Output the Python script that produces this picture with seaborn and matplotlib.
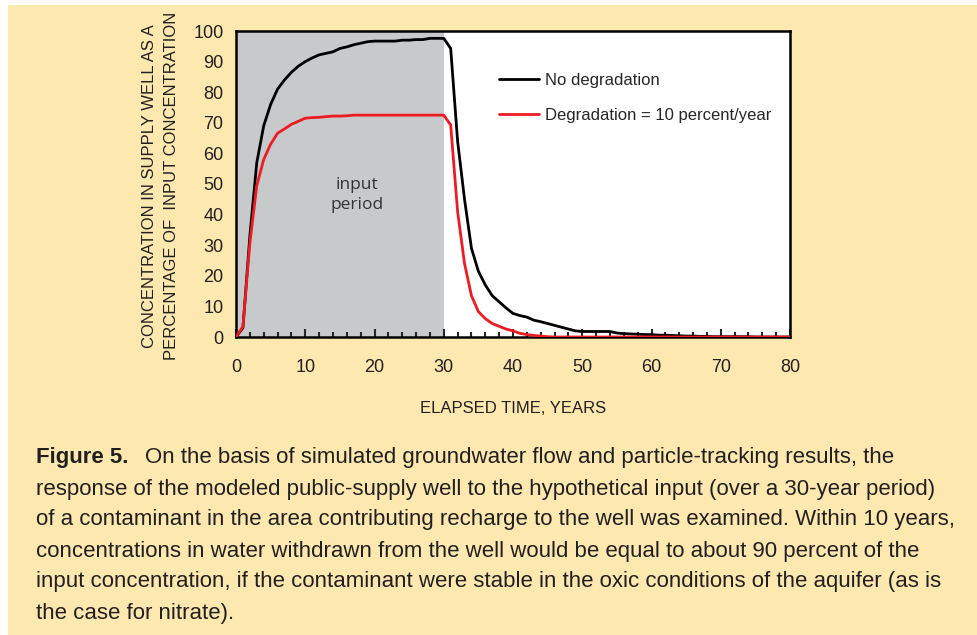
import matplotlib
matplotlib.use("Agg")
import matplotlib.pyplot as plt
import matplotlib.patches as mpatches
from matplotlib.ticker import MultipleLocator
import pandas as pd
import seaborn as sns

# simulated concentration, percent of input, yearly from 0 to 80
years = list(range(0, 81))
no_degradation = [
    0, 3, 33, 57, 69, 76, 81, 84, 86.5, 88.5,
    90, 91.2, 92.2, 92.7, 93.2, 94.3, 94.8, 95.5, 96, 96.5,
    96.7, 96.7, 96.7, 96.7, 97, 97, 97.2, 97.2, 97.6, 97.6,
    97.6, 94.3, 64, 45, 29, 21.5, 17, 13.5, 11.5, 9.5,
    7.7, 7, 6.5, 5.5, 5, 4.4, 3.8, 3.2, 2.6, 2,
    1.8, 1.8, 1.8, 1.8, 1.8, 1.3, 1.1, 1.0, 0.9, 0.8,
    0.8, 0.6, 0.6, 0.5, 0.4, 0.3, 0.3, 0.2, 0.2, 0.1,
    0.1, 0.1, 0.1, 0.1, 0.1, 0, 0, 0, 0, 0, 0,
]
degradation_10 = [
    0, 3.4, 30.6, 49.5, 58, 63, 66.6, 68, 69.5, 70.5,
    71.5, 71.7, 71.8, 72, 72.2, 72.2, 72.3, 72.5, 72.5, 72.5,
    72.5, 72.5, 72.5, 72.5, 72.5, 72.5, 72.5, 72.5, 72.5, 72.5,
    72.5, 69.3, 41, 24, 13.5, 8.3, 6, 4.4, 3.5, 2.6,
    2, 1.2, 0.8, 0.5, 0.3, 0.1, 0, 0, 0, 0,
    0, 0, 0, 0, 0, 0, 0, 0, 0, 0,
    0, 0, 0, 0, 0, 0, 0, 0, 0, 0,
    0, 0, 0, 0, 0, 0, 0, 0, 0, 0, 0,
]
input_period = (0, 30)
series_names = ["No degradation", "Degradation = 10 percent/year"]
caption_lines = [
    "On the basis of simulated groundwater flow and particle-tracking results, the",
    "response of the modeled public-supply well to the hypothetical input (over a 30-year period)",
    "of a contaminant in the area contributing recharge to the well was examined. Within 10 years,",
    "concentrations in water withdrawn from the well would be equal to about 90 percent of the",
    "input concentration, if the contaminant were stable in the oxic conditions of the aquifer (as is",
    "the case for nitrate).",
]

df = pd.DataFrame({
    "year": years * 2,
    "conc": no_degradation + degradation_10,
    "series": [series_names[0]] * len(years) + [series_names[1]] * len(years),
})

sns.set_style("ticks")
plt.rcParams["font.family"] = ["Liberation Sans", "DejaVu Sans"]

BG = "#fde9b0"
TXT = "#231f20"

fig = plt.figure(figsize=(9.78, 6.35), dpi=100)
fig.patch.set_facecolor("white")
fig.patches.append(mpatches.Rectangle((8 / 978, 0), 1, 1 - 5 / 635,
                                      transform=fig.transFigure, facecolor=BG,
                                      edgecolor="none", zorder=-10))

ax = fig.add_axes([236 / 978, 1 - 337 / 635, (790 - 236) / 978, (337 - 31) / 635])
ax.set_facecolor("white")
ax.axvspan(*input_period, color="#c8c9cb", lw=0, zorder=0)

sns.lineplot(data=df, x="year", y="conc", hue="series",
             palette=["#000000", "#ed1c24"], lw=2, ax=ax, zorder=3)

ax.set_xlim(0, 80)
ax.set_ylim(0, 100)
ax.xaxis.set_major_locator(MultipleLocator(10))
ax.xaxis.set_minor_locator(MultipleLocator(2))
ax.yaxis.set_major_locator(MultipleLocator(10))
ax.tick_params(axis="x", which="major", direction="in", length=6, width=1.5,
               pad=16, labelsize=13, labelcolor=TXT)
ax.tick_params(axis="x", which="minor", direction="in", length=3.5, width=1.5)
ax.tick_params(axis="y", length=0, pad=9, labelsize=13, labelcolor=TXT)
for s in ax.spines.values():
    s.set_linewidth(1.8)
    s.set_color("black")

ax.set_xlabel("ELAPSED TIME, YEARS", fontsize=12, color=TXT, labelpad=18)
ax.set_ylabel("")
fig.text(150 / 978, 1 - 186 / 635, "CONCENTRATION IN SUPPLY WELL AS A",
         rotation=90, ha="center", va="center", fontsize=12, color=TXT)
fig.text(172 / 978, 1 - 186 / 635, "PERCENTAGE OF  INPUT CONCENTRATION",
         rotation=90, ha="center", va="center", fontsize=12, color=TXT)

ax.text(17.5, 46.4, "input\nperiod", ha="center", va="center", fontsize=12.5,
        color="#333333", family=["Open Sans", "DejaVu Sans"], linespacing=1.3)

ax.legend(loc="upper left", bbox_to_anchor=((492 - 236) / 554, 1 - (66 - 31) / 306),
          frameon=False, fontsize=12, handlelength=2.4, handletextpad=0.4,
          labelspacing=1.2, borderaxespad=0, title=None)

# caption
fig.text(36 / 978, 1 - 458 / 635, "Figure 5.", fontsize=16, fontweight="bold",
         color=TXT, va="center", ha="left")
fig.text(145 / 978, 1 - 458 / 635, caption_lines[0], fontsize=16, color=TXT,
         va="center", ha="left")
for i, line in enumerate(caption_lines[1:]):
    fig.text(36 / 978, 1 - (489 + 31 * i) / 635, line, fontsize=16, color=TXT,
             va="center", ha="left")

fig.savefig("out.png", dpi=100, facecolor=fig.get_facecolor())
